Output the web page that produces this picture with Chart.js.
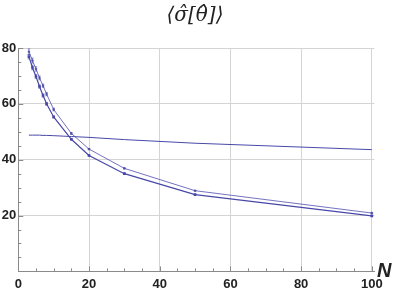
<!DOCTYPE html>
<html><head><meta charset="utf-8">
<script src="https://cdn.jsdelivr.net/npm/chart.js@4/dist/chart.umd.min.js"></script>
<style>html,body{margin:0;padding:0;background:#fff}#wrap{width:399px;height:290px;position:relative}</style>
</head><body><div id="wrap"><canvas id="c" width="399" height="290"></canvas></div>
<script>
const titleText = "\u27E8\u03C3\u0302[\u03B8\u0302]\u27E9";
const xAxisLabel = "N";
const nValues = [3, 4, 5, 6, 7, 8, 10, 15, 20, 30, 50, 100];
const upperSeries = [78.7, 75.5, 72.5, 69.3, 66.5, 63.5, 58.0, 49.4, 43.8, 36.9, 28.9, 20.9];
const upperErrors = [1.0, 0.9, 0.8, 0.7, 0.6, 0.6, 0.5, 0.3, 0.2, 0.2, 0.1, 0.1];
const lowerSeries = [76.9, 73.0, 69.8, 66.2, 63.0, 60.0, 55.3, 47.3, 41.5, 35.0, 27.5, 19.9];
const lowerErrors = [0.8, 0.8, 0.7, 0.6, 0.6, 0.5, 0.4, 0.3, 0.2, 0.2, 0.1, 0.1];
const flatSeries = [48.8, 48.8, 48.8, 48.8, 48.7, 48.7, 48.6, 48.3, 48.0, 47.2, 45.9, 43.6];
const xTicks = [0, 20, 40, 60, 80, 100];
const yTicks = [20, 40, 60, 80];

const toPts = (ys) => nValues.map((n, i) => ({x: n, y: ys[i]}));
const lineCol = "rgb(72,72,168)";

const extras = {
  id: "extras",
  afterDatasetsDraw(chart) {
    const ctx = chart.ctx, xs = chart.scales.x, ys = chart.scales.y, a = chart.chartArea;
    ctx.save();
    // error bars
    const errs = [[upperSeries, upperErrors], [lowerSeries, lowerErrors]];
    ctx.strokeStyle = "rgba(72,72,168,0.8)"; ctx.lineWidth = 0.7;
    errs.forEach(([vals, e]) => {
      vals.forEach((v, i) => {
        const px = xs.getPixelForValue(nValues[i]);
        const y1 = ys.getPixelForValue(v + e[i]), y2 = ys.getPixelForValue(v - e[i]);
        ctx.beginPath();
        ctx.moveTo(px, y1); ctx.lineTo(px, y2);
        ctx.moveTo(px - 1.3, y1); ctx.lineTo(px + 1.3, y1);
        ctx.moveTo(px - 1.3, y2); ctx.lineTo(px + 1.3, y2);
        ctx.stroke();
      });
    });
    // minor ticks inward
    ctx.strokeStyle = "#8a8a8a"; ctx.lineWidth = 1;
    for (let v = 5; v <= 100; v += 5) {
      const px = Math.round(xs.getPixelForValue(v)) + 0.5;
      ctx.beginPath(); ctx.moveTo(px, a.bottom); ctx.lineTo(px, a.bottom - (v % 20 === 0 ? 5 : 3)); ctx.stroke();
    }
    for (let v = 5; v <= 80; v += 5) {
      const py = Math.round(ys.getPixelForValue(v)) + 0.5;
      ctx.beginPath(); ctx.moveTo(a.left, py); ctx.lineTo(a.left + (v % 20 === 0 ? 5 : 3), py); ctx.stroke();
    }
    // title
    ctx.fillStyle = "#222";
    ctx.font = "italic 20px 'DejaVu Serif', serif";
    ctx.textAlign = "center"; ctx.textBaseline = "middle";
    ctx.fillText(titleText, 195, 16);
    // axis label N
    ctx.font = "bold italic 20px 'Liberation Sans', Arial, sans-serif";
    ctx.textAlign = "left"; ctx.textBaseline = "middle";
    ctx.fillText(xAxisLabel, 377, 271);
    ctx.restore();
  }
};

new Chart(document.getElementById("c"), {
  type: "scatter",
  data: {
    datasets: [
      {data: toPts(upperSeries), showLine: true, borderColor: "rgba(80,80,175,0.8)", backgroundColor: "rgba(80,80,175,0.8)", borderWidth: 1, pointRadius: 1, pointStyle: "rect"},
      {data: toPts(lowerSeries), showLine: true, borderColor: lineCol, backgroundColor: lineCol, borderWidth: 1.2, pointRadius: 1, pointStyle: "rect"},
      {data: toPts(flatSeries), showLine: true, borderColor: lineCol, backgroundColor: lineCol, borderWidth: 1, pointRadius: 0}
    ]
  },
  options: {
    responsive: false, animation: false,
    layout: {padding: {left: 0, right: 24.7, top: 48, bottom: 0}},
    plugins: {legend: {display: false}, tooltip: {enabled: false}, title: {display: false}},
    scales: {
      x: {
        type: "linear", min: 0, max: 100.7,
        afterFit: (s) => { s.height = 18.6; },
        afterBuildTicks: (s) => { s.ticks = xTicks.map(v => ({value: v})); },
        grid: {color: (c) => c.tick && c.tick.value === 0 ? "rgba(0,0,0,0)" : "#d4d4d4", drawTicks: false, lineWidth: 1},
        border: {color: "#8a8a8a", width: 1},
        ticks: {padding: 5, color: "#222", font: {family: "'Liberation Sans', Arial, sans-serif", size: 13, weight: "bold"}, maxRotation: 0, autoSkip: false}
      },
      y: {
        type: "linear", min: 0, max: 80,
        afterFit: (s) => { s.width = 18.3; },
        afterBuildTicks: (s) => { s.ticks = yTicks.map(v => ({value: v})); },
        grid: {color: "#d4d4d4", drawTicks: false, lineWidth: 1},
        border: {color: "#8a8a8a", width: 1},
        ticks: {padding: 2, color: "#222", font: {family: "'Liberation Sans', Arial, sans-serif", size: 13, weight: "bold"}, autoSkip: false}
      }
    }
  },
  plugins: [extras]
});
</script></body></html>
